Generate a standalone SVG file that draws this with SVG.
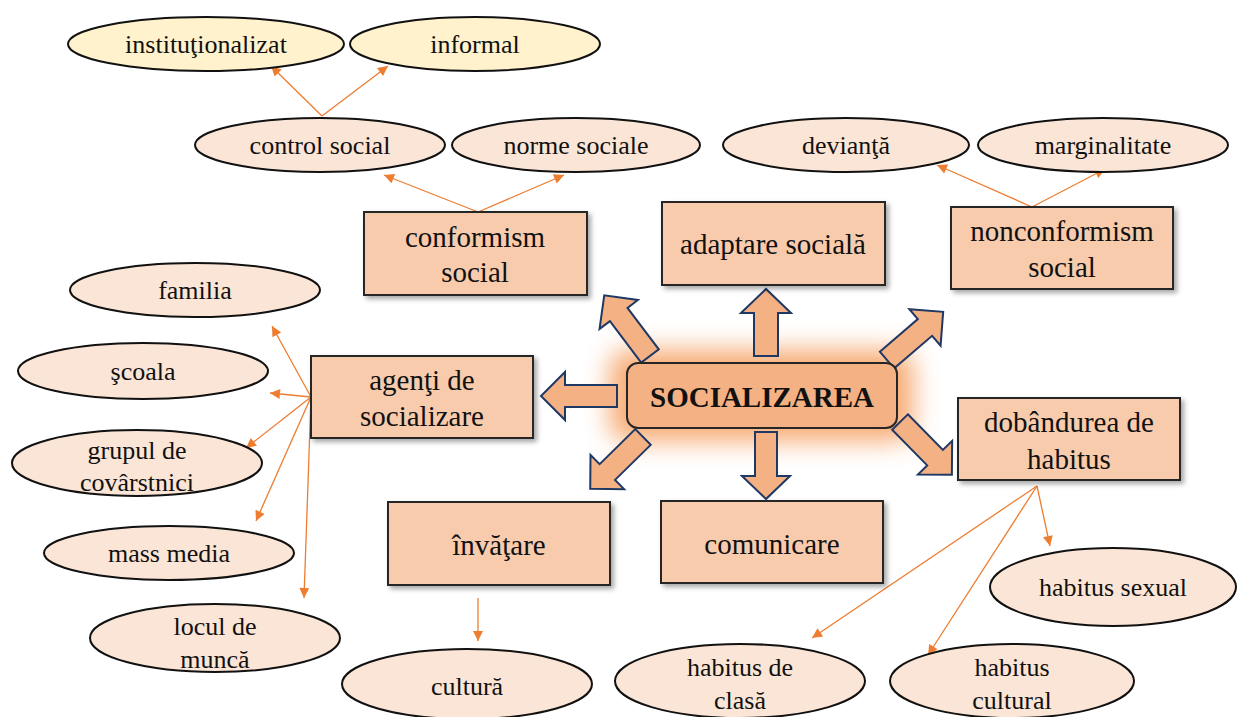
<svg xmlns="http://www.w3.org/2000/svg" width="1237" height="717" viewBox="0 0 1237 717">
<style>
text{font-family:"Liberation Serif","Times New Roman",serif;font-size:26px;fill:#111;text-anchor:middle}
.bt{font-size:29px}
.ell{fill:#fbe5d6;stroke:#111;stroke-width:2}
.yel{fill:#fff2cc;stroke:#111;stroke-width:2}
.box{fill:#f8cbad;stroke:#262626;stroke-width:2;filter:url(#sh)}
.ba{fill:#f4b183;stroke:#203864;stroke-width:2;stroke-linejoin:miter}
.con{stroke:#ed7d31;stroke-width:1.3;fill:none;marker-end:url(#ah)}
</style>
<defs>
<filter id="sh" x="-10%" y="-10%" width="130%" height="140%"><feDropShadow dx="3" dy="3" stdDeviation="2.5" flood-color="#000" flood-opacity="0.35"/></filter>
<filter id="glow" x="-40%" y="-100%" width="180%" height="300%"><feGaussianBlur stdDeviation="13"/></filter>
<marker id="ah" viewBox="0 0 10 10" refX="10" refY="5" markerWidth="12" markerHeight="10" markerUnits="userSpaceOnUse" orient="auto"><path d="M0,0 L10,5 L0,10 z" fill="#ed7d31"/></marker>
</defs>
<rect width="1237" height="717" fill="#fff"/>

<g id="connectors">
<line class="con" x1="322" y1="116" x2="271" y2="66"/>
<line class="con" x1="322" y1="116" x2="388" y2="66"/>
<line class="con" x1="478" y1="212" x2="384" y2="175"/>
<line class="con" x1="478" y1="212" x2="564" y2="175"/>
<line class="con" x1="1032" y1="207" x2="937" y2="165"/>
<line class="con" x1="1032" y1="207" x2="1105" y2="169"/>
<line class="con" x1="311" y1="397" x2="272" y2="326"/>
<line class="con" x1="311" y1="397" x2="270" y2="393"/>
<line class="con" x1="311" y1="397" x2="246" y2="448"/>
<line class="con" x1="311" y1="397" x2="256" y2="521"/>
<line class="con" x1="311" y1="397" x2="304" y2="598"/>
<line class="con" x1="478" y1="598" x2="478" y2="641"/>
<line class="con" x1="1037" y1="486" x2="1050" y2="546"/>
<line class="con" x1="1037" y1="486" x2="928" y2="655"/>
<line class="con" x1="1037" y1="486" x2="812" y2="638"/>
</g>

<g id="socializarea-glow">
<rect x="610" y="350" width="303" height="91" rx="18" fill="#f6a062" opacity="0.9" filter="url(#glow)"/>
</g>

<g id="block-arrows">
<path class="ba" transform="translate(766,356) rotate(-90)" d="M0,-12 L43,-12 L43,-25 L67,0 L43,25 L43,12 L0,12 Z"/>
<path class="ba" transform="translate(617,396) rotate(180)" d="M0,-11 L52,-11 L52,-24 L76,0 L52,24 L52,11 L0,11 Z"/>
<path class="ba" transform="translate(766,432) rotate(90)" d="M0,-11 L44,-11 L44,-24 L67,0 L44,24 L44,11 L0,11 Z"/>
<path class="ba" transform="translate(650,356) rotate(-127)" d="M0,-11 L52,-11 L52,-24 L76,0 L52,24 L52,11 L0,11 Z"/>
<path class="ba" transform="translate(887,360) rotate(-40.6)" d="M0,-11 L50,-11 L50,-24 L74,0 L50,24 L50,11 L0,11 Z"/>
<path class="ba" transform="translate(643,437) rotate(135.5)" d="M0,-11 L50,-11 L50,-24 L74,0 L50,24 L50,11 L0,11 Z"/>
<path class="ba" transform="translate(900,422) rotate(45.5)" d="M0,-11 L50,-11 L50,-24 L74,0 L50,24 L50,11 L0,11 Z"/>
</g>

<g id="socializarea">
<rect x="627" y="363" width="270" height="65" rx="11" fill="#f4b183" stroke="#262626" stroke-width="2"/>
<text x="762" y="407" style="font-size:29px;font-weight:bold">SOCIALIZAREA</text>
</g>

<g id="institutionalizat"><ellipse class="yel" cx="206" cy="44" rx="138" ry="27"/><text x="206" y="53">instituţionalizat</text></g>
<g id="informal"><ellipse class="yel" cx="475" cy="44" rx="125" ry="27"/><text x="475" y="53">informal</text></g>
<g id="control-social"><ellipse class="ell" cx="320" cy="145" rx="125" ry="27"/><text x="320" y="154">control social</text></g>
<g id="norme-sociale"><ellipse class="ell" cx="576" cy="145" rx="124" ry="27"/><text x="576" y="154">norme sociale</text></g>
<g id="devianta"><ellipse class="ell" cx="846" cy="145" rx="123" ry="27"/><text x="846" y="154">devianţă</text></g>
<g id="marginalitate"><ellipse class="ell" cx="1103" cy="145" rx="125" ry="27"/><text x="1103" y="154">marginalitate</text></g>

<g id="conformism"><rect class="box" x="364" y="212" width="223" height="83"/><text class="bt" x="475" y="247">conformism</text><text class="bt" x="475" y="282">social</text></g>
<g id="adaptare"><rect class="box" x="662" y="202" width="223" height="83"/><text class="bt" x="773" y="254">adaptare socială</text></g>
<g id="nonconformism"><rect class="box" x="951" y="207" width="222" height="82"/><text class="bt" x="1062" y="241">nonconformism</text><text class="bt" x="1062" y="277">social</text></g>
<g id="agenti"><rect class="box" x="311" y="356" width="222" height="82"/><text class="bt" x="422" y="390">agenţi de</text><text class="bt" x="422" y="426">socializare</text></g>
<g id="dobandurea"><rect class="box" x="958" y="398" width="222" height="82"/><text class="bt" x="1069" y="432">dobândurea de</text><text class="bt" x="1069" y="469">habitus</text></g>
<g id="invatare"><rect class="box" x="388" y="502" width="222" height="83"/><text class="bt" x="499" y="555">învăţare</text></g>
<g id="comunicare"><rect class="box" x="661" y="501" width="222" height="82"/><text class="bt" x="772" y="554">comunicare</text></g>

<g id="familia"><ellipse class="ell" cx="195" cy="290" rx="125" ry="27"/><text x="195" y="299">familia</text></g>
<g id="scoala"><ellipse class="ell" cx="143" cy="371" rx="125" ry="28"/><text x="143" y="380">şcoala</text></g>
<g id="grupul"><ellipse class="ell" cx="137" cy="463" rx="125" ry="33"/><text x="137" y="459">grupul de</text><text x="137" y="491">covârstnici</text></g>
<g id="mass-media"><ellipse class="ell" cx="169" cy="553" rx="125" ry="27"/><text x="169" y="562">mass media</text></g>
<g id="locul"><ellipse class="ell" cx="215" cy="638" rx="125" ry="34"/><text x="215" y="635">locul de</text><text x="215" y="668">muncă</text></g>
<g id="cultura"><ellipse class="ell" cx="467" cy="684" rx="125" ry="35"/><text x="467" y="695">cultură</text></g>
<g id="habitus-clasa"><ellipse class="ell" cx="740" cy="681" rx="125" ry="37"/><text x="740" y="676">habitus de</text><text x="740" y="709">clasă</text></g>
<g id="habitus-cultural"><ellipse class="ell" cx="1012" cy="681" rx="122" ry="37"/><text x="1012" y="676">habitus</text><text x="1012" y="709">cultural</text></g>
<g id="habitus-sexual"><ellipse class="ell" cx="1113" cy="587" rx="123" ry="39"/><text x="1113" y="596">habitus sexual</text></g>
</svg>
